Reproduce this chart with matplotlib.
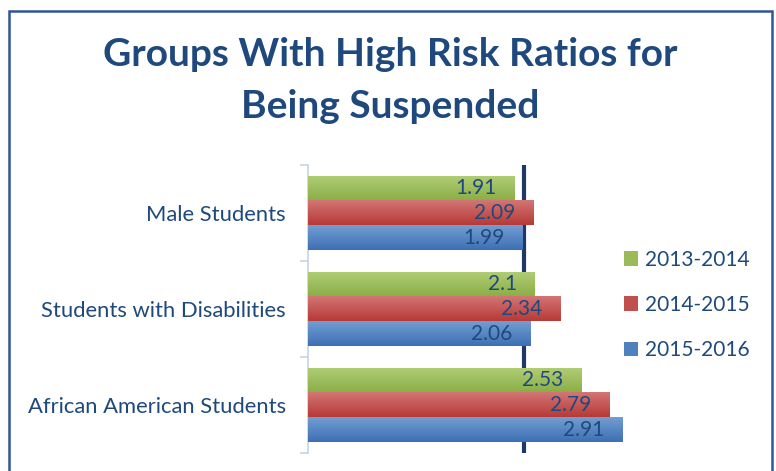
import numpy as np
import matplotlib.pyplot as plt
from matplotlib.patches import Patch, Rectangle

plt.rcParams['font.family'] = ['Lato', 'DejaVu Sans']

categories = ['Male Students', 'Students with Disabilities', 'African American Students']
years = ['2013-2014', '2014-2015', '2015-2016']
vals_2013 = [1.91, 2.10, 2.53]
vals_2014 = [2.09, 2.34, 2.79]
vals_2015 = [1.99, 2.06, 2.91]
label_2013 = ['1.91', '2.1', '2.53']
label_2014 = ['2.09', '2.34', '2.79']
label_2015 = ['1.99', '2.06', '2.91']
threshold = 2.0

series = [vals_2013, vals_2014, vals_2015]
labels = [label_2013, label_2014, label_2015]
# (light top, dark bottom) per series
shades = [('#b0cc74', '#8aae45'), ('#d27674', '#b73a37'), ('#739dd3', '#3d70b3')]
mid = ['#9bbb59', '#c0504d', '#4f81bd']
text_col = '#1f497d'

fig = plt.figure(figsize=(7.76, 4.71), dpi=100)
ax = fig.add_axes([308 / 776, 1 - 453 / 471, 324 / 776, 288 / 471])

y = np.arange(len(categories))
h = 0.257
for k, vals in enumerate(series):
    bars = ax.barh(y + (k - 1) * h, vals, height=h, color=mid[k], zorder=2)
    c0 = np.array(plt.matplotlib.colors.to_rgb(shades[k][0]))
    c1 = np.array(plt.matplotlib.colors.to_rgb(shades[k][1]))
    t = np.linspace(0, 1, 32)[:, None, None]
    grad = c0 * (1 - t) + c1 * t
    for p, txt in zip(bars.patches, labels[k]):
        x0, y0, w, hh = p.get_x(), p.get_y(), p.get_width(), p.get_height()
        ax.imshow(grad, extent=(x0, x0 + w, y0 + hh, y0), origin='upper',
                  aspect='auto', zorder=3, interpolation='bilinear')
        ax.annotate(txt, (x0 + w, y0 + hh / 2), xytext=(-13, 0),
                    textcoords='offset points', ha='right', va='center',
                    fontsize=15, color=text_col, zorder=4)

ax.axvline(threshold, color='#1f3864', lw=3, zorder=1)

ax.set_xlim(0, 3)
ax.set_ylim(len(categories) - 0.5, -0.5)
ax.set_yticks(y)
ax.set_yticklabels(categories, fontsize=15.8, color=text_col)
ax.tick_params(axis='y', which='major', length=0, pad=16)
ax.set_yticks(np.arange(len(categories) + 1) - 0.5, minor=True)
ax.tick_params(axis='y', which='minor', length=6, color='#c6d3e6', width=1.2)
ax.set_xticks([])
for s in ['top', 'right', 'bottom']:
    ax.spines[s].set_visible(False)
ax.spines['left'].set_color('#c6d3e6')
ax.spines['left'].set_linewidth(1.2)

handles = [Patch(facecolor=mid[k], edgecolor='none') for k in range(3)]
fig.legend(handles, years, loc='center left', bbox_to_anchor=(605 / 776, 1 - 305 / 471),
           frameon=False, fontsize=15, labelcolor=text_col,
           handlelength=0.7, handleheight=0.7, handletextpad=0.3, labelspacing=1.22)

fig.text(0.503, 1 - 55 / 471, 'Groups With High Risk Ratios for', ha='center', va='center',
         fontsize=28, fontweight='bold', color='#1f497d')
fig.text(0.503, 1 - 106 / 471, 'Being Suspended', ha='center', va='center',
         fontsize=28, fontweight='bold', color='#1f497d')

fig.patches.append(Rectangle((9 / 776, -0.1), 763 / 776, 1.1 - 11 / 471,
                             transform=fig.transFigure, fill=False,
                             edgecolor='#2f5597', lw=1.8))

fig.savefig('out.png', dpi=100)
